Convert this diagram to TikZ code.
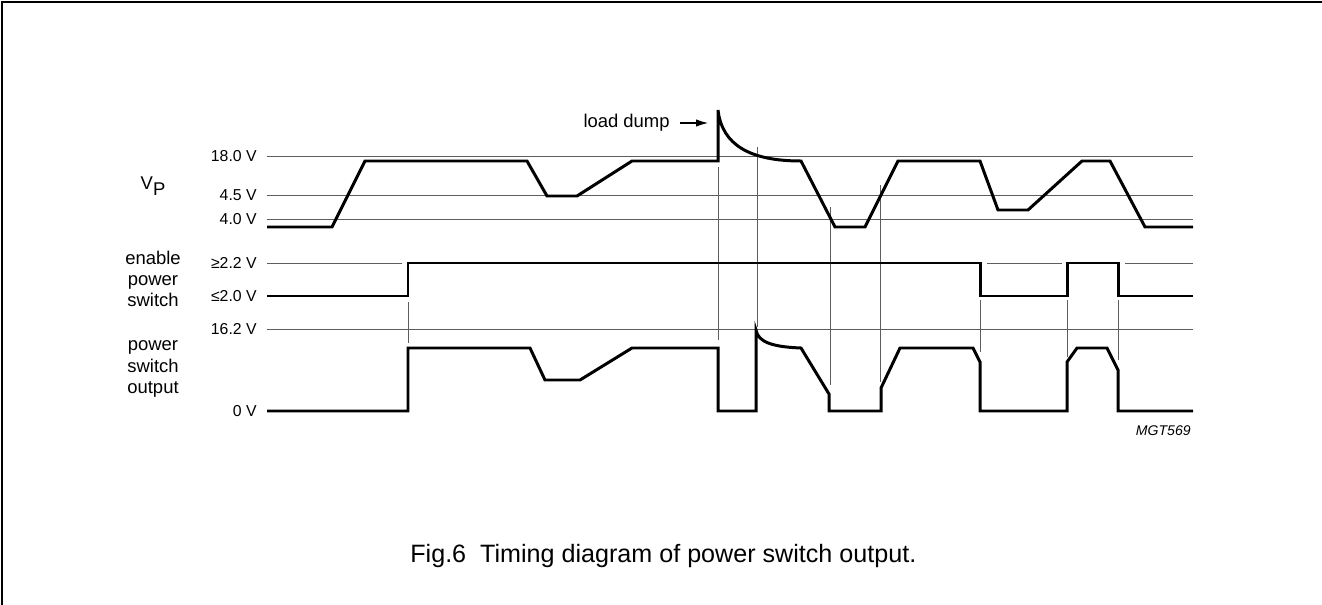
\documentclass[tikz,border=0pt]{standalone}
\usepackage{fontspec}
\setmainfont{Liberation Sans}
\usetikzlibrary{arrows.meta,positioning}
\definecolor{gridgrey}{HTML}{5E5E5E}

\begin{document}
\begin{tikzpicture}[x=0.02cm,y=-0.02cm,
  lbl/.style={font=\fontsize{9}{12}\selectfont,inner sep=0pt},
  sidelbl/.style={font=\fontsize{10.5}{12}\selectfont,align=center,inner sep=0pt},
  refline/.style={gridgrey,line width=0.55pt},
  guide/.style={gridgrey,line width=0.55pt},
  sig/.style={black,line width=1.7pt,line join=miter},
  pointer/.style={-{Latex[length=2.4mm,width=1.5mm]},line width=0.6pt}]

  \useasboundingbox (0,0) rectangle (1322,605);
  % page frame (top and left edge only)
  \draw[line width=1.2pt] (2,605) -- (2,2) -- (1322,2);

  % level labels
  \node[lbl,anchor=east] (l18) at (257,156) {18.0 V};
  \node[lbl,anchor=east] (l45) at (257,195) {4.5 V};
  \node[lbl,anchor=east] (l40) at (257,219) {4.0 V};
  \node[lbl,anchor=east] (l22) at (257,263) {≥2.2 V};
  \node[lbl,anchor=east] (l20) at (257,296) {≤2.0 V};
  \node[lbl,anchor=east] (l162) at (257,329) {16.2 V};
  \node[lbl,anchor=east] (l0) at (257,411) {0 V};

  % signal names
  \node[sidelbl] (vp) at (153,186) {V\raisebox{-0.55ex}{P}};
  \node[sidelbl] (en) at (153,279) {enable\\power\\switch};
  \node[sidelbl] (out) at (153,369) {power\\switch\\output};

  % reference levels
  \draw[refline] (267,156) -- (1193,156);
  \draw[refline] (267,195) -- (1193,195);
  \draw[refline] (267,219) -- (1193,219);
  \draw[refline] (267,263) -- (402,263);
  \draw[refline] (987,263) -- (1062,263);
  \draw[refline] (1125,263) -- (1193,263);
  \draw[refline] (267,329) -- (1193,329);

  % vertical guides
  \draw[guide] (408,302) -- (408,343);
  \draw[guide] (718,167) -- (718,340);
  \draw[guide] (757,147) -- (757,327);
  \draw[guide] (830,207) -- (830,385);
  \draw[guide] (880,185) -- (880,382);
  \draw[guide] (980,300) -- (980,352);
  \draw[guide] (1067,300) -- (1067,357);
  \draw[guide] (1118,300) -- (1118,360);

  % V_P
  \draw[sig] (267,227) -- (332,227) -- (365,161) -- (527,161) -- (547,196)
    -- (577,196) -- (632,161) -- (718,161) -- (718,110)
    .. controls (722,145) and (750,161) .. (801,161)
    -- (835,227) -- (865,227) -- (898,161) -- (980,161) -- (998,210)
    -- (1028,210) -- (1082,161) -- (1110,161) -- (1145,227) -- (1193,227);

  % enable power switch
  \draw[sig] (267,296) -- (408,296) -- (408,263) -- (980,263) -- (980,296)
    -- (1067,296) -- (1067,263) -- (1118,263) -- (1118,296) -- (1193,296);

  % power switch output
  \draw[sig] (267,411) -- (408,411) -- (408,348) -- (530,348) -- (545,380)
    -- (580,380) -- (632,348) -- (718,348) -- (718,411) -- (756,411)
    -- (756,330) .. controls (758,343) and (775,347) .. (801,348)
    -- (829,394) -- (829,411) -- (881,411) -- (881,388) -- (900,348)
    -- (973,348) -- (980,362) -- (980,411) -- (1067,411) -- (1067,362)
    -- (1077,348) -- (1107,348) -- (1118,370) -- (1118,411) -- (1193,411);

  % load dump
  \node[lbl,font=\fontsize{10.5}{12}\selectfont,anchor=east] (dump) at (670,123) {load dump};
  \coordinate (spike) at (708,123);
  \draw[pointer] ([xshift=2mm]dump.east) -- (spike);

  \node[lbl,font=\fontsize{8}{10}\itshape\selectfont,anchor=east] (code) at (1191,431) {MGT569};
  \node[font=\fontsize{14.3}{16}\selectfont,anchor=west,inner sep=0pt] (caption) at (410,556)
    {Fig.6\ \ Timing diagram of power switch output.};
\end{tikzpicture}
\end{document}
